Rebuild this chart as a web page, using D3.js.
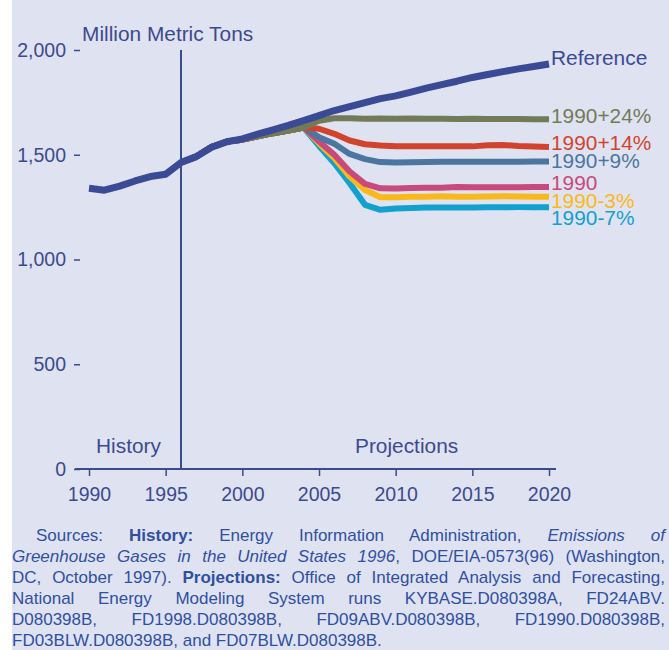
<!DOCTYPE html>
<html><head><meta charset="utf-8">
<script src="https://cdn.jsdelivr.net/npm/d3@7"></script>
<style>
html,body{margin:0;padding:0;background:#fff;}
svg{display:block;}
text{font-family:"Liberation Sans",Arial,sans-serif;}
</style></head>
<body>
<script>
const years = d3.range(1990, 2021);
const refValues = [1340,1331,1350,1375,1396,1407,1463,1491,1536,1562,1576,1598,1619,1640,1663,1687,1711,1730,1749,1768,1781,1799,1818,1835,1851,1869,1883,1897,1910,1921,1933];
const scenarioYears = d3.range(1996, 2021);
const commonStart = [1463,1491,1538,1563,1572,1588,1603,1616,1630];
const plus24 = [1662,1674,1674,1672,1673,1672,1673,1672,1672,1671,1672,1671,1671,1671,1670,1670];
const plus14 = [1624,1600,1568,1550,1544,1540,1540,1541,1540,1540,1540,1545,1547,1542,1539,1537];
const plus9  = [1584,1552,1504,1479,1465,1463,1464,1465,1466,1466,1466,1467,1467,1466,1468,1468];
const at1990 = [1563,1500,1420,1361,1340,1339,1341,1342,1343,1346,1345,1345,1345,1345,1346,1346];
const minus3 = [1555,1484,1396,1332,1297,1297,1300,1300,1302,1300,1300,1301,1302,1301,1300,1300];
const minus7 = [1542,1460,1364,1261,1237,1243,1246,1248,1248,1248,1248,1249,1249,1250,1250,1250];
const scenarioNames = ["1990-7%","1990-3%","1990","1990+9%","1990+14%","1990+24%"];
const scenarioSeries = [minus7, minus3, at1990, plus9, plus14, plus24];
const scenarioColors = ["#12a0cf","#fbb81b","#c8497b","#4a76a0","#d2432e","#737a58"];
const labelNames = ["Reference","1990+24%","1990+14%","1990+9%","1990","1990-3%","1990-7%"];
const labelColors = ["#3b4a94","#737a58","#d2432e","#4a76a0","#c8497b","#fbb81b","#12a0cf"];
const labelY = [58,116,143,161,183,201,218];
const yTicks = [0,500,1000,1500,2000];
const xTicks = [1990,1995,2000,2005,2010,2015,2020];

const W = 669, H = 650;
const svg = d3.select("body").append("svg").attr("width", W).attr("height", H);
svg.append("rect").attr("x",12).attr("y",0).attr("width",W-12).attr("height",H).attr("fill","#dfe3f1");

const x = d3.scaleLinear().domain([1990,2020]).range([89,549]);
const y = d3.scaleLinear().domain([0,2000]).range([469,50]);
const axisColor = "#3c4a8e";

function wideText(tx, ty, str, color, size) {
  return svg.append("text")
    .attr("transform", `translate(${tx},${ty}) scale(1.07,1)`)
    .attr("fill", color).style("font-size", size + "px").text(str);
}

// y axis
const yAxis = svg.append("g").attr("transform","translate(80,0)")
  .call(d3.axisLeft(y).tickValues(yTicks).tickFormat(d3.format(",")).tickSize(6).tickPadding(8));
yAxis.select(".domain").remove();
yAxis.selectAll("line").attr("stroke",axisColor).attr("stroke-width",1.5);
yAxis.selectAll("text").attr("fill",axisColor).style("font-size","19.5px").attr("font-family","Liberation Sans, Arial, sans-serif");

// x axis
const xAxis = svg.append("g").attr("transform","translate(0,469)")
  .call(d3.axisBottom(x).tickValues(xTicks).tickFormat(d3.format("d")).tickSize(7).tickPadding(11).tickSizeOuter(0));
xAxis.select(".domain").attr("d","M75,0H556").attr("stroke",axisColor).attr("stroke-width",2);
xAxis.selectAll("line").attr("stroke",axisColor).attr("stroke-width",1.5);
xAxis.selectAll("text").attr("fill",axisColor).style("font-size","19.5px").attr("font-family","Liberation Sans, Arial, sans-serif");

// vertical divider
svg.append("line").attr("x1",x(1996)).attr("x2",x(1996)).attr("y1",y(2000)).attr("y2",y(0))
  .attr("stroke",axisColor).attr("stroke-width",2);

wideText(82, 41, "Million Metric Tons", axisColor, 19.5);
wideText(96, 453, "History", axisColor, 19.5);
wideText(355, 453, "Projections", axisColor, 19.5);

const line = d3.line().x(d => x(d[0])).y(d => y(d[1]));

scenarioSeries.forEach((s, i) => {
  const vals = commonStart.concat(s);
  const pts = scenarioYears.map((yr, j) => [yr, vals[j]]);
  svg.append("path").attr("d", line(pts)).attr("fill","none")
    .attr("stroke", scenarioColors[i]).attr("stroke-width",6)
    .attr("stroke-linejoin","round");
});
svg.append("path").attr("d", line(years.map((yr,j)=>[yr, refValues[j]]))).attr("fill","none")
  .attr("stroke","#3b4a94").attr("stroke-width",7).attr("stroke-linejoin","round");

labelNames.forEach((n,i)=>{
  wideText(551, labelY[i]+7, n, labelColors[i], 19.5);
});

// footer
const footColor = "#2f4fa3";
const footLines = [
  {x:36, just:true, segs:[["Sources: ",""],["History:","b"],[" Energy Information Administration, ",""],["Emissions of","i"]]},
  {x:12, just:true, segs:[["Greenhouse Gases in the United States 1996","i"],[", DOE/EIA-0573(96) (Washington,",""]]},
  {x:12, just:true, segs:[["DC, October 1997). ",""],["Projections:","b"],[" Office of Integrated Analysis and Forecasting,",""]]},
  {x:12, just:true, segs:[["National Energy Modeling System runs KYBASE.D080398A, FD24ABV.",""]]},
  {x:12, just:true, segs:[["D080398B, FD1998.D080398B, FD09ABV.D080398B, FD1990.D080398B,",""]]},
  {x:12, just:false, segs:[["FD03BLW.D080398B, and FD07BLW.D080398B.",""]]}
];
const footBase = [541,562,583,604,625,646];
footLines.forEach((ln,i)=>{
  const t = svg.append("text").attr("x",ln.x).attr("y",footBase[i]).attr("fill",footColor).style("font-size","17px");
  ln.segs.forEach(s=>{
    const ts = t.append("tspan").text(s[0]);
    if (s[1]==="b") ts.attr("font-weight","bold");
    if (s[1]==="i") ts.attr("font-style","italic");
  });
  if (ln.just) {
    const full = ln.segs.map(s=>s[0]).join("");
    const spaces = (full.match(/ /g)||[]).length;
    const nat = t.node().getComputedTextLength();
    const target = 665 - ln.x;
    if (spaces>0) t.attr("word-spacing", ((target-nat)/spaces).toFixed(2));
  }
});
</script>
</body></html>
